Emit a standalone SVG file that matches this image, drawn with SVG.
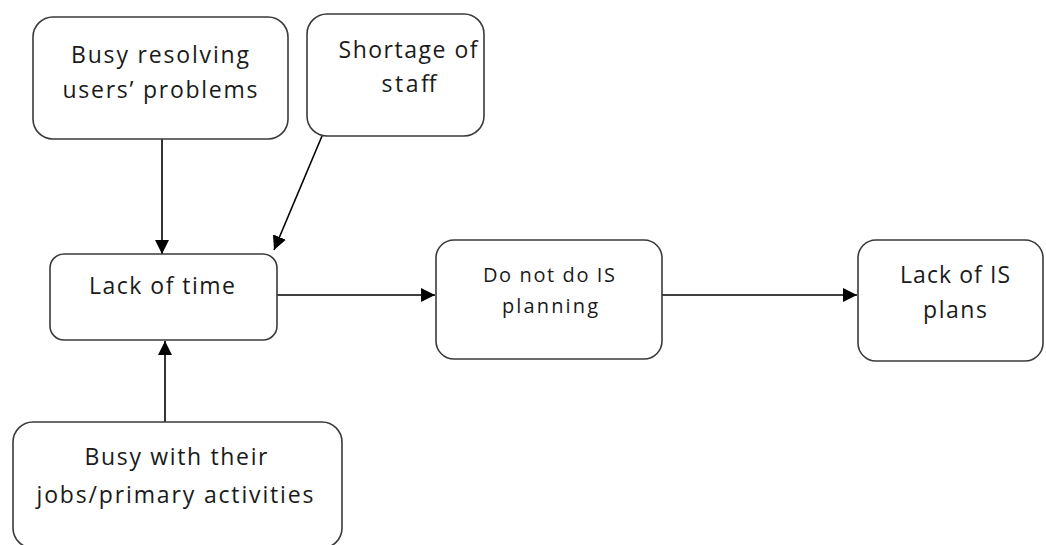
<svg xmlns="http://www.w3.org/2000/svg" width="1046" height="545" viewBox="0 0 1046 545">
  <style>
    .box { fill: #ffffff; stroke: #3a3a3a; stroke-width: 1.6; }
    .lbl { font-family: "Open Sans", "Liberation Sans", sans-serif; font-size: 23px; fill: #1a1a1a; text-anchor: middle; }
    .sm { font-size: 20px; }
    .edge { stroke: #000000; stroke-width: 1.6; fill: none; marker-end: url(#arrow); }
  </style>
  <defs>
    <marker id="arrow" viewBox="0 0 14 14" refX="14" refY="7" markerWidth="14" markerHeight="14" markerUnits="userSpaceOnUse" orient="auto">
      <path d="M0,0 L14,7 L0,14 Z" fill="#000000"/>
    </marker>
  </defs>

  <rect width="1046" height="545" fill="#ffffff"/>

  <g id="connectors">
    <line class="edge" x1="162" y1="139" x2="162" y2="254"/>
    <line class="edge" x1="322" y1="136" x2="274" y2="250"/>
    <line class="edge" x1="165" y1="422" x2="165" y2="341"/>
    <line class="edge" x1="277" y1="295" x2="435" y2="295"/>
    <line class="edge" x1="662" y1="295" x2="857" y2="295"/>
  </g>

  <g id="busy-resolving">
    <rect class="box" x="33" y="17" width="255" height="122" rx="20"/>
    <text class="lbl" x="160" y="63" textLength="178" lengthAdjust="spacing">Busy resolving</text>
    <text class="lbl" x="160" y="98" textLength="195" lengthAdjust="spacing">users’ problems</text>
  </g>

  <g id="shortage-of-staff">
    <rect class="box" x="307" y="14" width="177" height="122" rx="20"/>
    <text class="lbl" x="408" y="58" textLength="139" lengthAdjust="spacing">Shortage of</text>
    <text class="lbl" x="409" y="92" textLength="55" lengthAdjust="spacing">staff</text>
  </g>

  <g id="lack-of-time">
    <rect class="box" x="50" y="254" width="227" height="86" rx="14"/>
    <text class="lbl" x="162" y="294" textLength="146" lengthAdjust="spacing">Lack of time</text>
  </g>

  <g id="busy-with-jobs">
    <rect class="box" x="13" y="422" width="329" height="126" rx="20"/>
    <text class="lbl" x="176" y="465" textLength="183" lengthAdjust="spacing">Busy with their</text>
    <text class="lbl" x="175" y="503" textLength="277" lengthAdjust="spacing">jobs/primary activities</text>
  </g>

  <g id="no-is-planning">
    <rect class="box" x="436" y="240" width="226" height="119" rx="18"/>
    <text class="lbl sm" x="549" y="282" textLength="132" lengthAdjust="spacing">Do not do IS</text>
    <text class="lbl sm" x="550" y="313" textLength="96" lengthAdjust="spacing">planning</text>
  </g>

  <g id="lack-of-is-plans">
    <rect class="box" x="858" y="240" width="185" height="121" rx="18"/>
    <text class="lbl" x="955" y="283" textLength="110" lengthAdjust="spacing">Lack of IS</text>
    <text class="lbl" x="955" y="318" textLength="64" lengthAdjust="spacing">plans</text>
  </g>
</svg>
